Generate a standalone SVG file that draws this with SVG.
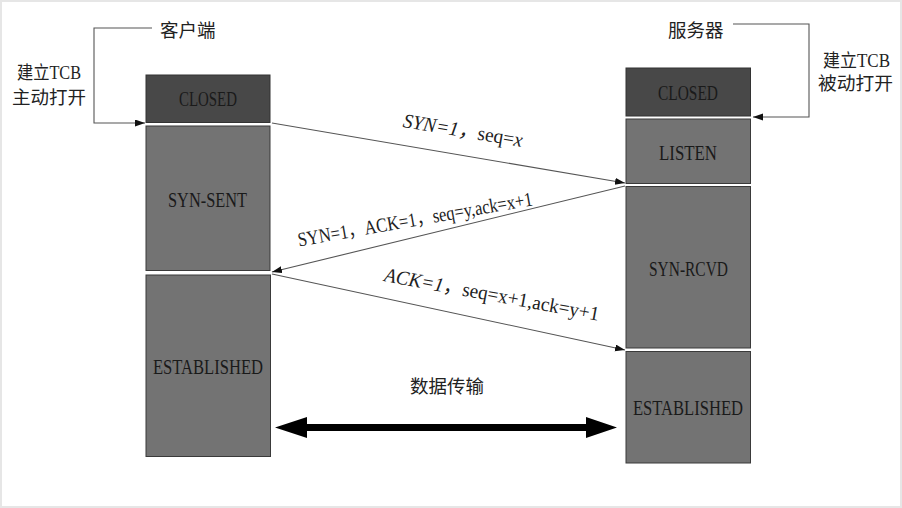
<svg xmlns="http://www.w3.org/2000/svg" width="902" height="508" viewBox="0 0 902 508">
<style>
.bg{fill:#ffffff;stroke:#e6e6e6;stroke-width:2}
.dark{fill:#484848;stroke:#333333;stroke-width:1}
.mid{fill:#737373;stroke:#3a3a3a;stroke-width:1}
.st{font-family:"Liberation Serif","Noto Sans CJK SC",serif;font-size:22px;fill:#1a1a1a;text-anchor:middle;dominant-baseline:central}
.cn{font-family:"Liberation Serif","Noto Sans CJK SC",serif;font-size:18.5px;fill:#222222;dominant-baseline:central}
.lbl{font-family:"Liberation Serif","Noto Sans CJK SC",serif;font-size:20px;fill:#222222;text-anchor:middle;dominant-baseline:central}
.ln{fill:none;stroke:#555555;stroke-width:1.1}
.it{font-style:italic}
</style>
<defs>
<marker id="ah" markerUnits="userSpaceOnUse" markerWidth="10" markerHeight="8" refX="10" refY="3.5" orient="auto">
<path d="M0,0 L10,3.5 L0,7 z" fill="#111111"/>
</marker>
</defs>
<rect class="bg" x="1" y="1" width="900" height="506"/>

<g id="client-title"><text class="cn" x="160" y="31">客户端</text></g>
<g id="client-open-label">
<text class="cn" x="17" y="73" textLength="64" lengthAdjust="spacingAndGlyphs">建立TCB</text>
<text class="cn" x="12" y="98" textLength="74" lengthAdjust="spacingAndGlyphs">主动打开</text>
</g>
<g id="server-title"><text class="cn" x="668" y="31">服务器</text></g>
<g id="server-open-label">
<text class="cn" x="823" y="61" textLength="67" lengthAdjust="spacingAndGlyphs">建立TCB</text>
<text class="cn" x="818" y="84" textLength="75" lengthAdjust="spacingAndGlyphs">被动打开</text>
</g>

<g id="c-closed"><rect class="dark" x="146" y="75" width="124" height="47.5"/><text class="st" x="208" y="98.5" textLength="58" lengthAdjust="spacingAndGlyphs">CLOSED</text></g>
<g id="c-synsent"><rect class="mid" x="146" y="126" width="124" height="144.5"/><text class="st" x="207.5" y="199" textLength="79" lengthAdjust="spacingAndGlyphs">SYN-SENT</text></g>
<g id="c-established"><rect class="mid" x="146" y="275" width="124.5" height="181.5"/><text class="st" x="208" y="366.5" textLength="110" lengthAdjust="spacingAndGlyphs">ESTABLISHED</text></g>

<g id="s-closed"><rect class="dark" x="626" y="68" width="124.5" height="48"/><text class="st" x="688" y="92.5" textLength="60" lengthAdjust="spacingAndGlyphs">CLOSED</text></g>
<g id="s-listen"><rect class="mid" x="626" y="119" width="124.5" height="64.5"/><text class="st" x="688" y="152" textLength="58" lengthAdjust="spacingAndGlyphs">LISTEN</text></g>
<g id="s-synrcvd"><rect class="mid" x="626" y="186.5" width="124.5" height="161.5"/><text class="st" x="688.5" y="268" textLength="79" lengthAdjust="spacingAndGlyphs">SYN-RCVD</text></g>
<g id="s-established"><rect class="mid" x="626" y="351.5" width="124.5" height="111.5"/><text class="st" x="688" y="407" textLength="110" lengthAdjust="spacingAndGlyphs">ESTABLISHED</text></g>

<g id="connectors">
<polyline class="ln" points="152,28 94,28 94,123 145,123" marker-end="url(#ah)"/>
<polyline class="ln" points="733,24 809,24 809,117 753,117" marker-end="url(#ah)"/>
<line class="ln" x1="272" y1="123" x2="625" y2="183" marker-end="url(#ah)"/>
<line class="ln" x1="625" y1="186" x2="272" y2="272" marker-end="url(#ah)"/>
<line class="ln" x1="272" y1="274" x2="625" y2="350" marker-end="url(#ah)"/>
<polygon fill="#000000" points="275,427.5 307,417 307,424 586,424 586,417 617,427.5 586,438 586,431 307,431 307,438"/>
</g>

<g id="labels">
<text class="lbl" transform="translate(463,130) rotate(9.5)" x="0" y="0" textLength="121" lengthAdjust="spacingAndGlyphs"><tspan class="it">SYN=1，</tspan>seq=<tspan class="it">x</tspan></text>
<text class="lbl" transform="translate(415,219) rotate(-10)" x="0" y="0" textLength="238" lengthAdjust="spacingAndGlyphs">SYN=1，ACK=1，seq=y,ack=x+1</text>
<text class="lbl" transform="translate(492,294) rotate(10.5)" x="0" y="0" textLength="218" lengthAdjust="spacingAndGlyphs"><tspan class="it">ACK=1</tspan>，seq=x+1,ack=y+1</text>
<text class="cn" x="447" y="387" text-anchor="middle">数据传输</text>
</g>
</svg>
